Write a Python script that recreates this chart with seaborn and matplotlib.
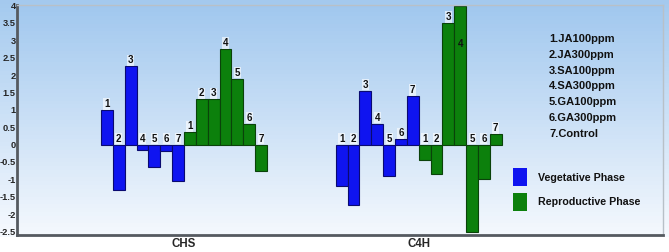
import numpy as np
import pandas as pd
import matplotlib
matplotlib.use("Agg")
import matplotlib.pyplot as plt
from matplotlib.patches import Rectangle
import seaborn as sns

genes = ["CHS", "C4H"]
treatments = ["1", "2", "3", "4", "5", "6", "7"]
phases = ["Vegetative Phase", "Reproductive Phase"]
chs_veg = [1.0, -1.3, 2.25, -0.15, -0.65, -0.18, -1.05]
chs_rep = [0.35, 1.3, 1.3, 2.75, 1.9, 0.6, -0.75]
c4h_veg = [-1.2, -1.75, 1.55, 0.6, -0.9, 0.15, 1.4]
c4h_rep = [-0.45, -0.85, 3.5, 4.0, -2.5, -1.0, 0.3]
treatment_names = ["1.JA100ppm", "2.JA300ppm", "3.SA100ppm", "4.SA300ppm",
                   "5.GA100ppm", "6.GA300ppm", "7.Control"]

values = {("CHS", "Vegetative Phase"): chs_veg, ("CHS", "Reproductive Phase"): chs_rep,
          ("C4H", "Vegetative Phase"): c4h_veg, ("C4H", "Reproductive Phase"): c4h_rep}

group_start = {"CHS": 0.0, "C4H": 19.8}
rows = []
for g in genes:
    for pi, ph in enumerate(phases):
        for ti, t in enumerate(treatments):
            rows.append(dict(gene=g, phase=ph, treat=t,
                             pos=round(group_start[g] + pi * 7 + ti, 3),
                             value=values[(g, ph)][ti]))
df = pd.DataFrame(rows)

sns.set_theme(style="white", rc={"axes.facecolor": "#C6DDF3", "figure.facecolor": "white",
                                 "savefig.facecolor": "white"})
plt.rcParams["font.family"] = ["Liberation Sans", "DejaVu Sans"]
plt.rcParams["font.weight"] = "bold"

fig = plt.figure(figsize=(6.69, 2.52), dpi=100)

top_c = np.array([163, 201, 238]) / 255
bot_c = np.array([246, 249, 254]) / 255

# figure background gradient (strips as figure patches)
n = 60
H = 236.0
for i in range(n):
    f = (i + 0.5) / n
    y_top = 1 - (H * i / n) / 252
    y_bot = 1 - (H * (i + 1) / n) / 252
    fig.patches.append(Rectangle((0, y_bot - 0.002), 1, y_top - y_bot + 0.002,
                                 transform=fig.transFigure, facecolor=tuple(top_c * (1 - f) + bot_c * f),
                                 edgecolor="none", zorder=-5))

ax = fig.add_axes([17 / 669, 1 - 235 / 252, (663 - 17) / 669, (235 - 4.5) / 252])
ax.set_facecolor("#D0E3F5")

ymin, ymax = -2.6, 4.03
top_a = np.array([160, 199, 238]) / 255
bot_a = np.array([244, 248, 253]) / 255
for i in range(n):
    f = (i + 0.5) / n
    y1 = ymax - (ymax - ymin) * i / n
    y0 = ymax - (ymax - ymin) * (i + 1) / n
    ax.axhspan(y0 - 0.005, y1, facecolor=tuple(top_a * (1 - f) + bot_a * f),
               edgecolor="none", zorder=0.5)

palette = {"Vegetative Phase": "#0F14F0", "Reproductive Phase": "#0C800C"}
edges = {"Vegetative Phase": "#0A0A70", "Reproductive Phase": "#0A420A"}
sns.barplot(data=df, x="pos", y="value", hue="phase", hue_order=phases,
            palette=palette, saturation=1, native_scale=True, dodge=False, width=1.0,
            errorbar=None, ax=ax, zorder=2, legend=True)
for cont, ph in zip(ax.containers, phases):
    for p in cont:
        p.set_edgecolor(edges[ph])
        p.set_linewidth(0.8)

ax.set_xlim(-7.58, 46.9)
ax.set_ylim(ymin, ymax)

for _, r in df.iterrows():
    v = r["value"]
    if v >= ymax - 0.1:
        y, va = v - 1.1, "center"
    else:
        y, va = max(v, 0) + 0.03, "bottom"
    ax.text(r["pos"], y, r["treat"], ha="center", va=va, fontsize=7,
            fontweight="bold", color="#111111", zorder=4,
            bbox=None if va == "center" else dict(boxstyle="square,pad=0.08", fc="white", ec="none", alpha=0.6))

yt = np.arange(-2.5, 4.01, 0.5)
ax.set_yticks(yt)
ax.set_yticklabels([("%g" % t) for t in yt], fontsize=6.7, fontweight="bold")
centers = [group_start[g] + 6.5 for g in genes]
ax.set_xticks(centers)
ax.set_xticklabels(genes, fontsize=8.3, fontweight="bold")
ax.tick_params(axis="y", length=0, pad=0.8)
ax.tick_params(axis="x", length=0, pad=2)
ax.set_xlabel("")
ax.set_ylabel("")

for s in ["left", "bottom"]:
    ax.spines[s].set_color("#555a60")
    ax.spines[s].set_linewidth(2)
for s in ["top", "right"]:
    ax.spines[s].set_color("#b8c0c8")
    ax.spines[s].set_linewidth(1)

for i, name in enumerate(treatment_names):
    fig.text(549 / 669, 1 - (39 + i * 15.8) / 252, name, ha="left", va="center",
             fontsize=8, fontweight="bold", color="#111111")

leg = ax.legend(loc="upper left", bbox_to_anchor=(511 / 669, 1 - 166 / 252),
                bbox_transform=fig.transFigure, frameon=False, fontsize=7.7,
                handlelength=1.31, handleheight=2.22, handletextpad=1.0,
                labelspacing=0.62, borderpad=0.2, borderaxespad=0)
for h in leg.legend_handles:
    h.set_edgecolor("none")
for t in leg.get_texts():
    t.set_fontweight("bold")
    t.set_color("#111111")

fig.savefig("out.png", dpi=100)
